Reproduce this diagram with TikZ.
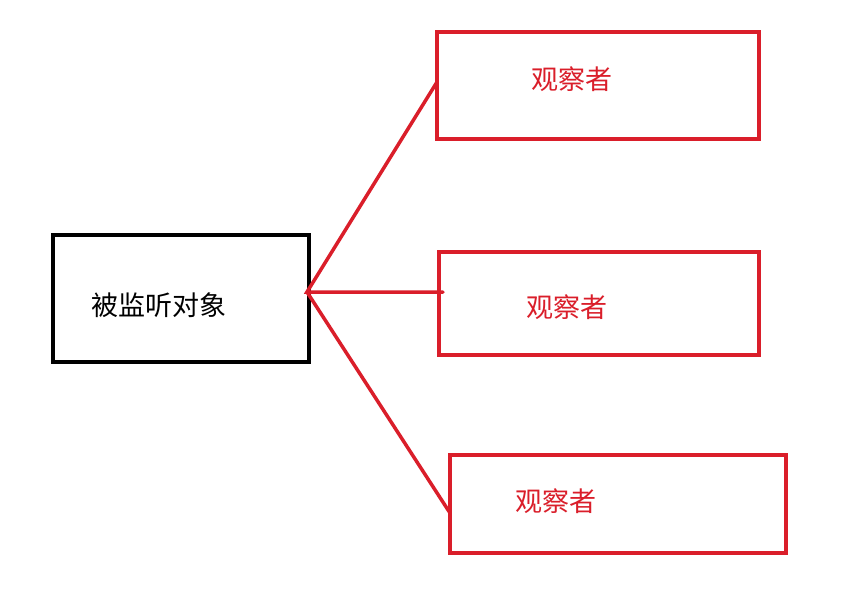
\documentclass[tikz,border=0pt]{standalone}
\usepackage{fontspec}
\newfontfamily\cjk{Noto Sans CJK SC}
\definecolor{myred}{RGB}{218,30,42}
\tikzset{obsbox/.style={draw=myred,line width=4pt},
 subj/.style={draw=black,line width=4pt},
 lbl/.style={font=\cjk\fontsize{27}{27}\selectfont},
 conn/.style={draw=myred,line width=3.5pt}}
\begin{document}
\begin{tikzpicture}[x=1pt,y=-1pt]
\useasboundingbox[fill=white] (0,0) rectangle (860,595);
\draw[subj] (53,235) rectangle (309,362);
\node[lbl,text=black] (s) at (159,305) {被监听对象};
\draw[obsbox] (437,32) rectangle (759,139);
\draw[obsbox] (439,252) rectangle (759,355);
\draw[obsbox] (450,455) rectangle (786,553);
\node[lbl,text=myred] (o1) at (572,79) {观察者};
\node[lbl,text=myred] (o2) at (567,307) {观察者};
\node[lbl,text=myred] (o3) at (556,501) {观察者};
\coordinate (c) at (307,292);
\coordinate (e1) at (437,82);
\coordinate (e2) at (443,292);
\coordinate (e3) at (450,513);
\draw[conn,line cap=round] (e1) -- (c) -- (e2);
\draw[conn,line cap=round] (c) -- (e3);
\end{tikzpicture}
\end{document}
